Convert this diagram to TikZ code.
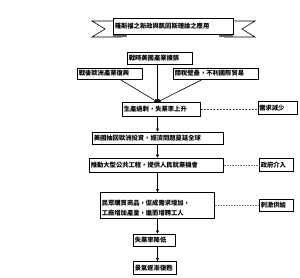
\documentclass[tikz,border=0pt]{standalone}
\usepackage{fontspec}
\newfontfamily\cjk{Noto Sans CJK TC}
\usetikzlibrary{arrows.meta,calc}
\begin{document}
\begin{tikzpicture}[x=1pt,y=-1pt,
  box/.style={draw, line width=0.6pt, fill=white, anchor=north west, inner xsep=1.5pt, inner ysep=0pt, align=left, font=\cjk\bfseries\fontsize{6.3}{10}\selectfont},
  flow/.style={line width=0.6pt, -{Triangle[length=3pt,width=3pt]}},
  side1/.style={line width=0.6pt, black!70, dash pattern=on 2pt off 1.2pt},
  side2/.style={line width=0.6pt, black!55, dash pattern=on 1pt off 0.6pt},
  fold/.style={draw, line width=0.6pt, fill=black!60}]
\useasboundingbox (0,0) rectangle (300,277);
\coordinate (spine) at (157.5,0);
% banner tails
\draw[line width=0.6pt, fill=white] (122,21) -- (92,21) -- (105,29) -- (92,37) -- (122,37) -- cycle;
\draw[line width=0.6pt, fill=white] (224,21) -- (255,21) -- (242,29) -- (255,37) -- (224,37) -- cycle;
\fill[black!60] (113,34) -- (127,34) -- (127,37) -- (113,37) -- cycle;
\fill[black!60] (219,34) -- (233,34) -- (233,37) -- (219,37) -- cycle;
\node[box, minimum width=120pt, text width=117pt, minimum height=16pt] (title) at (113,18) {羅斯福之新政與凱因斯理論之應用};
% boxes
\node[box, minimum width=65pt, text width=62pt, minimum height=11.5pt] (A) at (127,52) {戰時美國產業擴張};
\node[box, minimum width=65pt, text width=62pt, minimum height=11.5pt] (B) at (77,67.5) {戰後歐洲產業復興};
\node[box, minimum width=85pt, text width=82pt, minimum height=11.5pt] (C) at (173,67.5) {關稅壁壘，不利國際貿易};
\node[box, minimum width=78pt, text width=75pt, minimum height=13.5pt] (D) at (122,102) {生產過剩，失業率上升};
\node[box, minimum width=39pt, text width=36pt, minimum height=13pt] (E) at (257.5,101) {需求減少};
\node[box, minimum width=131pt, text width=128pt, minimum height=12.5pt] (F) at (92,131.5) {美國抽回歐洲投資，經濟問題蔓延全球};
\node[box, minimum width=134pt, text width=131pt, minimum height=14.5pt] (G) at (89,157.5) {推動大型公共工程，提供人民就業機會};
\node[box, minimum width=34pt, text width=31pt, minimum height=13pt] (H) at (259,158) {政府介入};
\node[box, minimum width=114pt, text width=111pt, minimum height=26pt, inner ysep=0pt, text depth=6pt] (I) at (100,192) {民眾購買商品，促成需求增加，\\工廠增加產量，繼而增聘工人};
\node[box, minimum width=34pt, text width=31pt, minimum height=12pt] (J) at (259,199) {刺激供給};
\node[box, minimum width=42pt, text width=39pt, minimum height=12pt] (K) at (133,233.5) {失業率降低};
\node[box, minimum width=43pt, text width=40pt, minimum height=13pt] (L) at (133,261) {景氣逐漸復甦};
% connectors
\draw[flow] (A.south -| spine) -- (D.north -| spine);
\draw[flow] ($(B.south west)!0.66!(B.south east)$) -- (D.north -| spine);
\draw[flow] ($(C.south west)!0.34!(C.south east)$) -- (D.north -| spine);
\draw[flow] (D.south -| spine) -- (F.north -| spine);
\draw[flow] (F.south -| spine) -- (G.north -| spine);
\draw[flow] (G.south -| spine) -- (I.north -| spine);
\draw[flow] (I.south -| spine) -- (K.north -| spine);
\draw[flow] (K.south -| spine) -- (L.north -| spine);
\draw[side1] (D.east) -- (E.west |- D.east);
\draw[side2] (G.east) -- (H.west |- G.east);
\draw[side2] (I.east) -- (J.west |- I.east);
\end{tikzpicture}
\end{document}
